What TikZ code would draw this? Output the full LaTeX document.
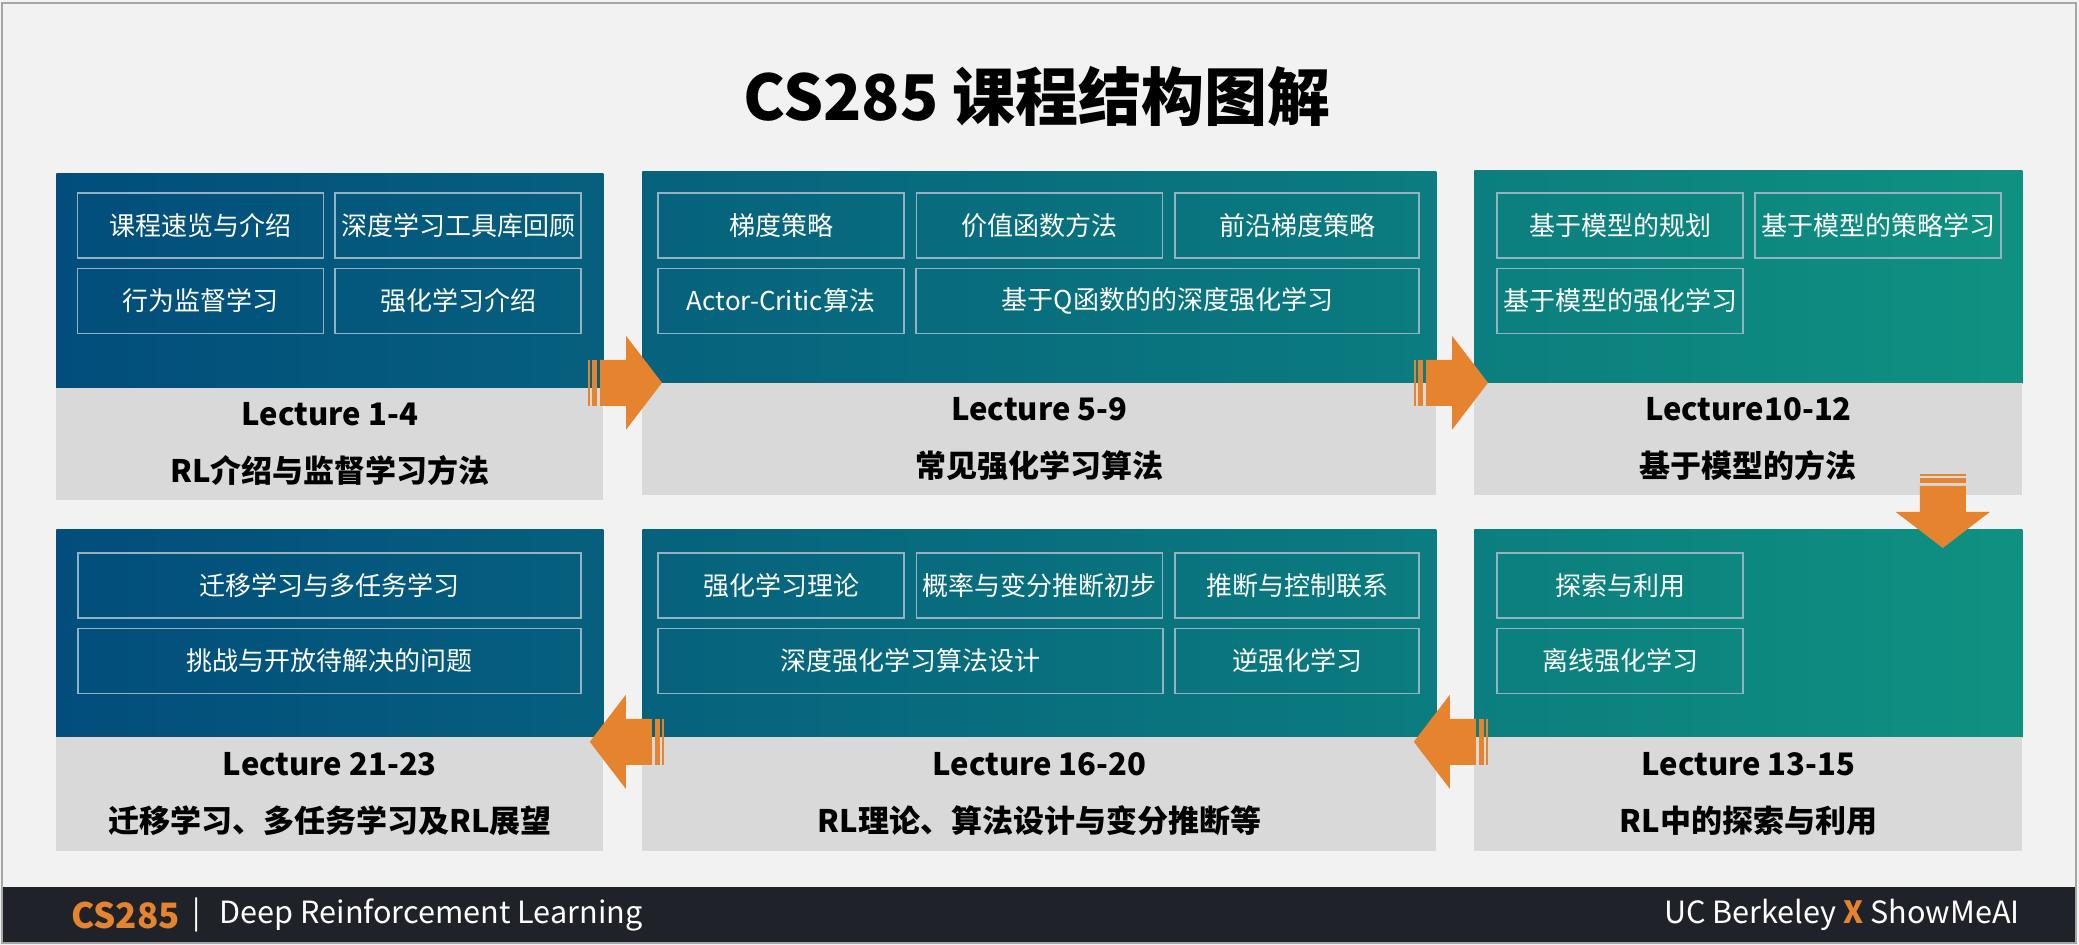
\documentclass[tikz,border=0pt]{standalone}
\usepackage{fontspec}
\setmainfont{Noto Sans CJK SC}
\usetikzlibrary{positioning}

\definecolor{bgGray}{HTML}{F2F2F2}
\definecolor{frameGray}{HTML}{A6A6A6}
\definecolor{deepBlue}{HTML}{024D7C}
\definecolor{deepTeal}{HTML}{0F9180}
\definecolor{bandGray}{HTML}{D9D9D9}
\definecolor{arrowOrange}{HTML}{E5832F}
\definecolor{footDark}{HTML}{1F2329}
\definecolor{cellLine}{HTML}{93B3C2}

\tikzset{
  flowarrow/.pic={
    \fill[arrowOrange] (0,0) -- (-36,-47) -- (-36,-23) -- (-62,-23) -- (-62,23)
      -- (-36,23) -- (-36,47) -- cycle;
    \fill[arrowOrange] (-65,-23) rectangle (-70,23);
    \fill[arrowOrange] (-72,-23) rectangle (-74,23);
  }
}

\begin{document}
\begin{tikzpicture}
  [ x=0.5pt, y=-0.5pt,
    pxsize/.style 2 args={minimum width=#1*0.5pt, minimum height=#2*0.5pt},
    panel/.style 2 args={rectangle, anchor=north west, inner sep=0pt,
      left color=deepTeal!#1!deepBlue, right color=deepTeal!#2!deepBlue},
    band/.style={rectangle, anchor=north west, inner sep=0pt, fill=bandGray,
      align=center, font=\bfseries\fontsize{15.5}{28.5}\selectfont},
    cell/.style={rectangle, draw=cellLine, line width=0.7pt, inner sep=0pt,
      text=white, font=\fontsize{13}{15}\selectfont},
    foottext/.style={anchor=west, inner sep=0pt, text=white,
      font=\fontsize{15.3}{18}\selectfont}]

  \useasboundingbox (0,0) rectangle (2079,945);
  \fill[bgGray] (0,0) rectangle (2079,945);

  \node[font=\bfseries\fontsize{31.5}{36}\selectfont] (title) at (1037,97) {CS285 课程结构图解};

  % top row
  \node[panel={0}{28}, pxsize={547}{215}] (top1) at (56,173) {};
  \node[band, pxsize={547}{112}] (band1) at (56,388) {Lecture 1-4\\RL介绍与监督学习方法};
  \node[panel={30}{70}, pxsize={794}{212}] (top2) at (642,171) {};
  \node[band, pxsize={794}{112}] (band2) at (642,383) {Lecture 5-9\\常见强化学习算法};
  \node[panel={72}{100}, pxsize={548}{213}] (top3) at (1474,170) {};
  \node[band, pxsize={548}{112}] (band3) at (1474,383) {Lecture10-12\\基于模型的方法};

  % bottom row
  \node[panel={0}{28}, pxsize={547}{208}] (top4) at (56,529) {};
  \node[band, pxsize={547}{114}] (band4) at (56,737) {Lecture 21-23\\迁移学习、多任务学习及RL展望};
  \node[panel={30}{70}, pxsize={794}{208}] (top5) at (642,529) {};
  \node[band, pxsize={794}{114}] (band5) at (642,737) {Lecture 16-20\\RL理论、算法设计与变分推断等};
  \node[panel={72}{100}, pxsize={548}{208}] (top6) at (1474,529) {};
  \node[band, pxsize={548}{114}] (band6) at (1474,737) {Lecture 13-15\\RL中的探索与利用};

  % topic cells
  \node[cell, pxsize={246}{65}] (c11) at (200.5,225.5) {课程速览与介绍};
  \node[cell, pxsize={246}{65}] (c12) at (458,225.5) {深度学习工具库回顾};
  \node[cell, pxsize={246}{65}] (c13) at (200.5,301) {行为监督学习};
  \node[cell, pxsize={246}{65}] (c14) at (458,301) {强化学习介绍};

  \node[cell, pxsize={246}{65}] (c21) at (781,225.5) {梯度策略};
  \node[cell, pxsize={246}{65}] (c22) at (1039.5,225.5) {价值函数方法};
  \node[cell, pxsize={244}{65}] (c23) at (1297,225.5) {前沿梯度策略};
  \node[cell, pxsize={246}{65}] (c24) at (781,301) {Actor-Critic算法};
  \node[cell, pxsize={503}{65}] (c25) at (1167.5,301) {基于Q函数的的深度强化学习};

  \node[cell, pxsize={246}{65}] (c31) at (1620,225.5) {基于模型的规划};
  \node[cell, pxsize={246}{65}] (c32) at (1878,225.5) {基于模型的策略学习};
  \node[cell, pxsize={246}{65}] (c33) at (1620,301) {基于模型的强化学习};

  \node[cell, pxsize={503}{65}] (c41) at (329.5,585.5) {迁移学习与多任务学习};
  \node[cell, pxsize={503}{65}] (c42) at (329.5,661) {挑战与开放待解决的问题};

  \node[cell, pxsize={246}{65}] (c51) at (781,585.5) {强化学习理论};
  \node[cell, pxsize={246}{65}] (c52) at (1039.5,585.5) {概率与变分推断初步};
  \node[cell, pxsize={244}{65}] (c53) at (1297,585.5) {推断与控制联系};
  \node[cell, pxsize={505}{65}] (c54) at (910.5,661) {深度强化学习算法设计};
  \node[cell, pxsize={244}{65}] (c55) at (1297,661) {逆强化学习};

  \node[cell, pxsize={246}{65}] (c61) at (1620,585.5) {探索与利用};
  \node[cell, pxsize={246}{65}] (c62) at (1620,661) {离线强化学习};

  % flow arrows
  \pic at ([xshift=10pt,yshift=0.5pt]top2.south west) {flowarrow};
  \pic at ([xshift=7pt,yshift=0.5pt]top3.south west) {flowarrow};
  \pic[rotate=-90] at ([xshift=-40pt,yshift=-9.5pt]top6.north east) {flowarrow};
  \pic[rotate=180] at ([xshift=-11.5pt,yshift=-2pt]top5.south east) {flowarrow};
  \pic[rotate=180] at ([xshift=-7pt,yshift=-2pt]top4.south east) {flowarrow};

  % footer
  \node[rectangle, anchor=north west, inner sep=0pt, fill=footDark, pxsize={2074}{57}] (foot) at (2,887) {};
  \node[foottext, text=arrowOrange, font=\bfseries\fontsize{17.5}{18}\selectfont] (fcourse) at (71,915) {CS285};
  \node[foottext, right=6pt of fcourse] (fsep) {|};
  \node[foottext, right=9pt of fsep] (fname) {Deep Reinforcement Learning};
  \node[foottext, anchor=east] (fbrand) at (2020,915) {UC Berkeley {\bfseries\color{arrowOrange}X} ShowMeAI};

  \draw[frameGray, line width=1pt] (2,3) rectangle (2076,943);
\end{tikzpicture}
\end{document}
